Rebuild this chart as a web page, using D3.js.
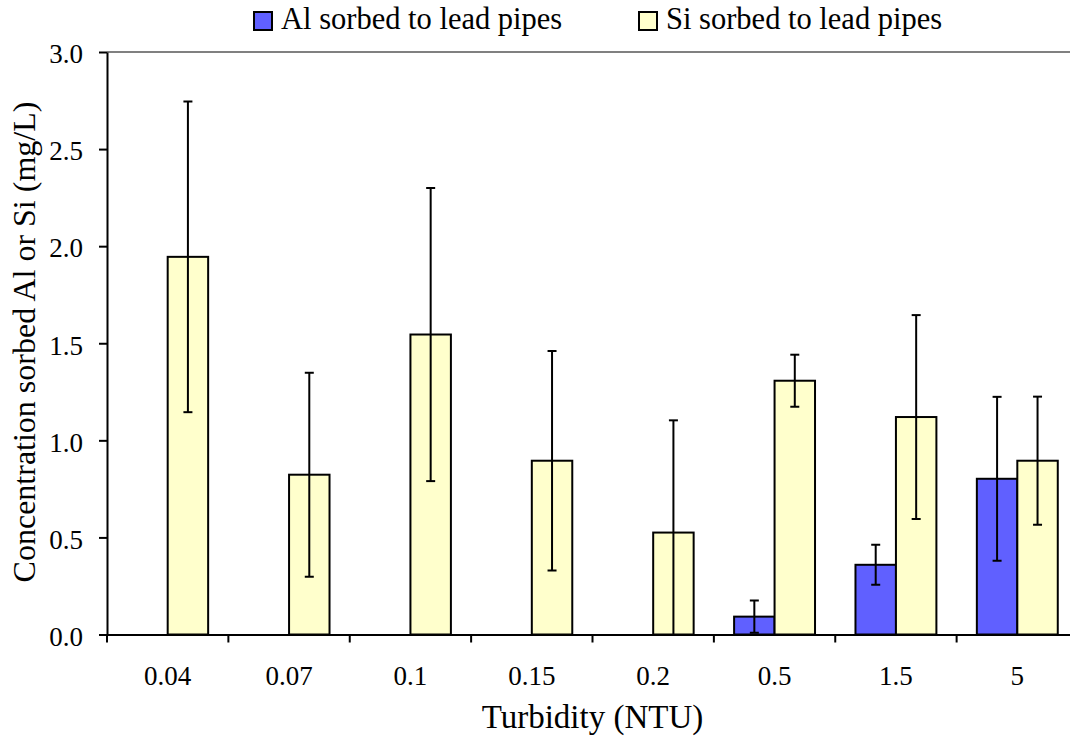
<!DOCTYPE html>
<html>
<head>
<meta charset="utf-8">
<script src="https://cdn.jsdelivr.net/npm/d3@7"></script>
<style>
  html, body { margin: 0; padding: 0; background: #fff; }
  svg { display: block; }
</style>
</head>
<body>
<svg id="chart" width="1070" height="738"></svg>
<script>
// Turbidity levels (NTU) on the x axis
const categories = ["0.04", "0.07", "0.1", "0.15", "0.2", "0.5", "1.5", "5"];
// Al sorbed to lead pipes (mg/L) and its error half-widths
const alValues = [null, null, null, null, null, 0.092, 0.359, 0.802];
const alErrors = [null, null, null, null, null, 0.083, 0.103, 0.422];
// Si sorbed to lead pipes (mg/L) and its error half-widths
const siValues = [1.945, 0.823, 1.545, 0.895, 0.525, 1.307, 1.12, 0.895];
const siErrors = [0.80, 0.525, 0.755, 0.565, 0.578, 0.134, 0.525, 0.33];
// Y axis ticks
const yTicks = [0, 0.5, 1.0, 1.5, 2.0, 2.5, 3.0];

const seriesNames = ["Al sorbed to lead pipes", "Si sorbed to lead pipes"];
const seriesColors = ["#6060FF", "#FFFFCC"];

const FONT = "\"Liberation Serif\"";

const svg = d3.select("#chart");
const plot = { left: 107, right: 1078, top: 52, bottom: 634.5 };

const x = d3.scaleBand().domain(categories).range([plot.left, plot.right]).padding(0);
const x1 = d3.scaleBand().domain(["al", "si"]).range([0, x.bandwidth()]).paddingInner(0).paddingOuter(0.5);
const y = d3.scaleLinear().domain([0, 3]).range([plot.bottom, plot.top]);

const rows = categories.map((c, i) => ({
  cat: c,
  al: alValues[i], alErr: alErrors[i],
  si: siValues[i], siErr: siErrors[i]
}));

svg.append("defs").append("clipPath").attr("id", "plotClip")
  .append("rect")
  .attr("x", plot.left).attr("y", plot.top)
  .attr("width", plot.right - plot.left).attr("height", plot.bottom - plot.top);

// top border of the plot area
svg.append("line")
  .attr("x1", plot.left).attr("x2", plot.right)
  .attr("y1", plot.top).attr("y2", plot.top)
  .attr("stroke", "#808080").attr("stroke-width", 2);

// bars
const series = [
  { key: "al", err: "alErr", color: seriesColors[0] },
  { key: "si", err: "siErr", color: seriesColors[1] }
];
const barG = svg.append("g");
series.forEach(s => {
  barG.selectAll(null)
    .data(rows.filter(d => d[s.key] != null))
    .join("rect")
    .attr("x", d => x(d.cat) + x1(s.key))
    .attr("y", d => y(d[s.key]))
    .attr("width", x1.bandwidth())
    .attr("height", d => y(0) - y(d[s.key]))
    .attr("fill", s.color)
    .attr("stroke", "#000")
    .attr("stroke-width", 2);
});

// error bars (clipped to the plot area)
const errG = svg.append("g").attr("clip-path", "url(#plotClip)")
  .attr("stroke", "#000").attr("stroke-width", 2);
const cap = 4.5;
series.forEach(s => {
  const data = rows.filter(d => d[s.key] != null && d[s.err] != null);
  const cx = d => x(d.cat) + x1(s.key) + x1.bandwidth() / 2;
  const g = errG.selectAll(null).data(data).join("g");
  g.append("line")
    .attr("x1", cx).attr("x2", cx)
    .attr("y1", d => y(d[s.key] + d[s.err]))
    .attr("y2", d => y(d[s.key] - d[s.err]));
  g.append("line")
    .attr("x1", d => cx(d) - cap).attr("x2", d => cx(d) + cap)
    .attr("y1", d => y(d[s.key] + d[s.err]))
    .attr("y2", d => y(d[s.key] + d[s.err]));
  g.filter(d => d[s.key] - d[s.err] >= 0).append("line")
    .attr("x1", d => cx(d) - cap).attr("x2", d => cx(d) + cap)
    .attr("y1", d => y(d[s.key] - d[s.err]))
    .attr("y2", d => y(d[s.key] - d[s.err]));
});

// y axis
const yAxis = svg.append("g")
  .attr("transform", `translate(${plot.left},0)`)
  .call(d3.axisLeft(y).tickValues(yTicks).tickFormat(d3.format(".1f"))
    .tickSize(8).tickSizeOuter(0).tickPadding(16));
yAxis.attr("font-family", null).attr("font-size", null);
yAxis.select(".domain").attr("stroke-width", 2);
yAxis.selectAll(".tick line").attr("stroke-width", 2);
yAxis.selectAll(".tick text")
  .style("font-family", FONT).attr("font-size", 27)
  .attr("fill", "#000").attr("dy", "0.4em");

// x axis
const xAxis = svg.append("g")
  .attr("transform", `translate(0,${plot.bottom})`)
  .call(d3.axisBottom(x).tickSize(0).tickSizeOuter(0));
xAxis.attr("font-family", null).attr("font-size", null);
xAxis.select(".domain").attr("stroke-width", 2);
xAxis.selectAll(".tick text")
  .style("font-family", FONT).attr("font-size", 27)
  .attr("fill", "#000").attr("y", 50).attr("dy", 0);
// category separators below the axis
xAxis.selectAll(".sep")
  .data(d3.range(categories.length + 1))
  .join("line")
  .attr("class", "sep")
  .attr("x1", i => plot.left + i * x.step())
  .attr("x2", i => plot.left + i * x.step())
  .attr("y1", 0).attr("y2", 8)
  .attr("stroke", "#000").attr("stroke-width", 2);

// axis titles
svg.append("text")
  .attr("x", (plot.left + plot.right) / 2).attr("y", 728)
  .attr("text-anchor", "middle")
  .style("font-family", FONT).attr("font-size", 33)
  .text("Turbidity (NTU)");
svg.append("text")
  .attr("transform", `translate(35,342) rotate(-90)`)
  .attr("text-anchor", "middle")
  .style("font-family", FONT).attr("font-size", 32)
  .text("Concentration sorbed Al or Si (mg/L)");

// legend
const legendPos = [{ x: 254, tx: 281 }, { x: 639, tx: 666 }];
const legend = svg.append("g");
seriesNames.forEach((name, i) => {
  legend.append("rect")
    .attr("x", legendPos[i].x).attr("y", 12)
    .attr("width", 18).attr("height", 18)
    .attr("fill", seriesColors[i]).attr("stroke", "#000").attr("stroke-width", 2);
  legend.append("text")
    .attr("x", legendPos[i].tx).attr("y", 29)
    .style("font-family", FONT).attr("font-size", 30.5)
    .text(name);
});
</script>
</body>
</html>
